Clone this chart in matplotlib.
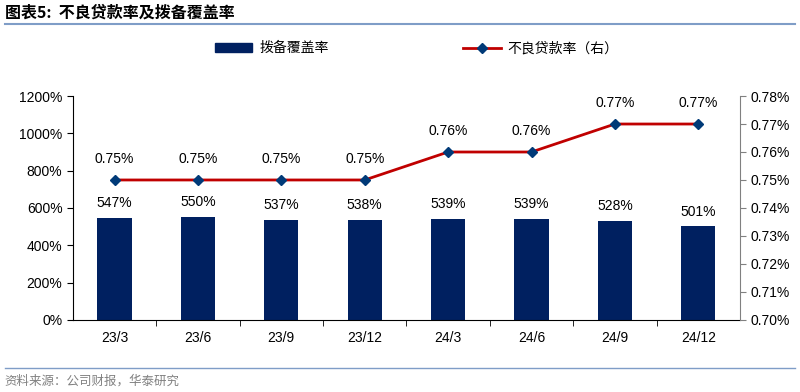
import matplotlib.pyplot as plt
from matplotlib.lines import Line2D
from matplotlib.patches import Patch
import numpy as np

plt.rcParams['font.family'] = ['Liberation Sans', 'Noto Sans CJK SC', 'DejaVu Sans']

# 数据
quarters = ['23/3', '23/6', '23/9', '23/12', '24/3', '24/6', '24/9', '24/12']
coverage = [547, 550, 537, 538, 539, 539, 528, 501]        # 拨备覆盖率 (%)
npl = [0.75, 0.75, 0.75, 0.75, 0.76, 0.76, 0.77, 0.77]      # 不良贷款率 (%)
left_ticks = [0, 200, 400, 600, 800, 1000, 1200]
right_ticks = [0.70, 0.71, 0.72, 0.73, 0.74, 0.75, 0.76, 0.77, 0.78]

bar_color = '#002060'
line_color = '#C00000'
marker_color = '#003A78'
cjk = ['Noto Sans CJK SC', 'DejaVu Sans']

fig = plt.figure(figsize=(8, 3.92), dpi=100)
ax = fig.add_axes([0.091, 0.184, 0.834, 0.571])
x = np.arange(len(quarters))

ax.bar(x, coverage, width=0.41, color=bar_color, zorder=2)
for xi, v in zip(x, coverage):
    ax.text(xi, v + 80, f'{v}%', ha='center', va='center', fontsize=10)

ax.set_xlim(-0.5, len(quarters) - 0.5)
ax.set_ylim(0, 1200)
ax.set_yticks(left_ticks)
ax.set_yticklabels([f'{t}%' for t in left_ticks], fontsize=10)
ax.set_xticks(x)
ax.set_xticklabels(quarters, fontsize=10)
ax.tick_params(axis='x', length=0, pad=8)
ax.set_xticks(np.arange(0.5, len(quarters) - 1, 1), minor=True)
ax.tick_params(axis='x', which='minor', length=4, direction='out')
ax.tick_params(axis='y', length=4, direction='out')
ax.spines['top'].set_visible(False)
ax.spines['right'].set_visible(False)

ax2 = ax.twinx()
ax2.plot(x, npl, color=line_color, lw=2, marker='D', markersize=5,
         markerfacecolor=marker_color, markeredgecolor=marker_color, zorder=3)
for xi, v in zip(x, npl):
    ax2.text(xi, v + 0.0075, f'{v:.2f}%', ha='center', va='center', fontsize=10)
ax2.set_ylim(0.70, 0.78)
ax2.set_yticks(right_ticks)
ax2.set_yticklabels([f'{t:.2f}%' for t in right_ticks], fontsize=10)
ax2.tick_params(axis='y', length=4, direction='out', color='#808080')
ax2.spines['top'].set_visible(False)
ax2.spines['left'].set_visible(False)
ax2.spines['bottom'].set_visible(False)
ax2.spines['right'].set_color('#808080')

# 图例
handles = [Patch(color=bar_color),
           Line2D([0], [0], color=line_color, lw=2, marker='D', markersize=5,
                  markerfacecolor=marker_color, markeredgecolor=marker_color)]
fig.legend(handles, ['拨备覆盖率', '不良贷款率（右）'], loc='center',
           bbox_to_anchor=(0.521, 0.877), ncol=2, frameon=False,
           prop={'family': cjk, 'size': 10}, columnspacing=9.7,
           handlelength=2.7, handleheight=0.6, handletextpad=0.5)

# 标题与来源
fig.text(0.006, 0.967, '图表5:  不良贷款率及拨备覆盖率', fontsize=11.5,
         fontweight='bold', family=cjk, va='center')
fig.add_artist(Line2D([0.006, 0.994], [0.939, 0.939], color='#7F9DC7', lw=1.5))
fig.add_artist(Line2D([0.006, 0.994], [0.061, 0.061], color='#7F9DC7', lw=1))
fig.text(0.006, 0.028, '资料来源：公司财报，华泰研究', fontsize=9,
         color='#808080', family=cjk, va='center')

fig.savefig('out.png', dpi=100)
